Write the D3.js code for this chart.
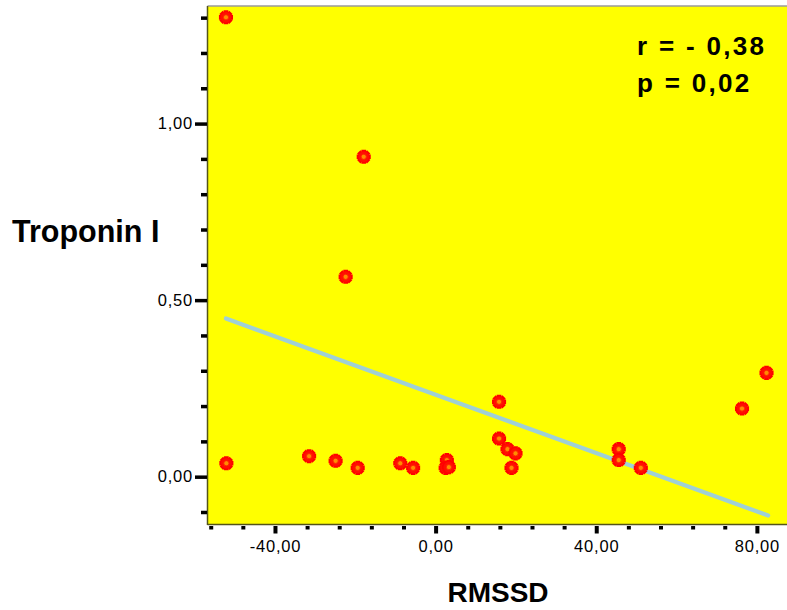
<!DOCTYPE html>
<html>
<head>
<meta charset="utf-8">
<script src="https://d3js.org/d3.v7.min.js"></script>
<style>
  body { margin: 0; background: #fff; }
  text { font-family: "Liberation Sans", Arial, sans-serif; }
</style>
</head>
<body>
<div id="container"></div>
<script>
// RMSSD (x) and Troponin I (y) values
var rmssd    = [-52.2, -17.9, -22.4, -52.1, -31.5, -24.9, -19.4, -8.8, -5.6, 2.8, 2.5, 3.3,
                15.8, 15.8, 17.9, 19.9, 18.9, 45.6, 45.6, 51.1, 76.3, 82.4];
var troponin = [1.301, 0.906, 0.566, 0.038, 0.058, 0.045, 0.025, 0.038, 0.025, 0.047, 0.025, 0.027,
                0.212, 0.108, 0.078, 0.066, 0.025, 0.078, 0.047, 0.025, 0.193, 0.294];
// fitted line ends
var fitX = [-52.2, 82.8];
var fitY = [0.448, -0.110];

var xTicks = d3.range(-56, 81, 8);
var yTicks = [-0.1, 0, 0.1, 0.2, 0.3, 0.4, 0.5, 0.6, 0.7, 0.8, 0.9, 1.0, 1.1, 1.2, 1.3];
var xMajor = [-40, 0, 40, 80];
var yMajor = [0, 0.5, 1.0];
var stats = ["r = - 0,38", "p = 0,02"];

var W = 787, H = 610;
var pLeft = 207.5, pRight = 787, pTop = 6, pBottom = 524;

var svg = d3.select("#container").append("svg")
  .attr("width", W)
  .attr("height", H);

var x = d3.scaleLinear().domain([-56.8, 87.5]).range([pLeft, pRight]);
var y = d3.scaleLinear().domain([-0.134, 1.333]).range([pBottom, pTop]);

var fmt = function(d) { return d3.format(".2f")(d).replace(".", ",").replace("\u2212", "-"); };
var isMajorY = function(d) { return yMajor.some(function(m) { return Math.abs(m - d) < 1e-6; }); };

// plot background
svg.append("rect")
  .attr("x", pLeft).attr("y", pTop)
  .attr("width", pRight - pLeft).attr("height", pBottom - pTop)
  .attr("fill", "#ffff00");
svg.append("line")
  .attr("x1", pLeft).attr("x2", pRight).attr("y1", pTop).attr("y2", pTop)
  .attr("stroke", "#9a9a9a").attr("stroke-width", 1.5);
svg.append("line")
  .attr("x1", pLeft).attr("x2", pLeft).attr("y1", pTop).attr("y2", pBottom + 1)
  .attr("stroke", "#55551a").attr("stroke-width", 1.5);
svg.append("line")
  .attr("x1", pLeft).attr("x2", pRight).attr("y1", pBottom + 0.5).attr("y2", pBottom + 0.5)
  .attr("stroke", "#55551a").attr("stroke-width", 1.5);

// x axis
var gx = svg.append("g")
  .attr("transform", "translate(0," + (pBottom + 2) + ")")
  .call(d3.axisBottom(x).tickValues(xTicks).tickSize(3).tickSizeOuter(0)
    .tickFormat(function(d) { return xMajor.indexOf(d) >= 0 ? fmt(d) : ""; }));
gx.select(".domain").remove();
gx.selectAll(".tick line").attr("stroke", "#000").attr("stroke-width", 4)
  .attr("y2", function(d) { return xMajor.indexOf(d) >= 0 ? 7.5 : 3.5; });
gx.selectAll(".tick text").attr("y", 14).attr("dy", "0.71em").attr("font-size", 16.5)
  .attr("letter-spacing", "0.8px").attr("fill", "#000");

// y axis
var gy = svg.append("g")
  .attr("transform", "translate(" + (pLeft - 0.5) + ",0)")
  .call(d3.axisLeft(y).tickValues(yTicks).tickSize(6).tickSizeOuter(0)
    .tickFormat(function(d) { return isMajorY(d) ? fmt(d) : ""; }));
gy.select(".domain").remove();
gy.selectAll(".tick line").attr("stroke", "#000").attr("stroke-width", 3.5)
  .attr("x2", function(d) { return isMajorY(d) ? -12 : -6; });
gy.selectAll(".tick text").attr("x", -14).attr("font-size", 16.5)
  .attr("letter-spacing", "0.8px").attr("fill", "#000");

// fit line
svg.append("path")
  .datum(d3.zip(fitX, fitY))
  .attr("d", d3.line().x(function(d) { return x(d[0]); }).y(function(d) { return y(d[1]); }))
  .attr("fill", "none")
  .attr("stroke", "#9fd0d6")
  .attr("stroke-width", 4.2)
  .attr("stroke-linecap", "round");

// points
var pts = svg.append("g").selectAll("g")
  .data(d3.zip(rmssd, troponin))
  .enter().append("g")
  .attr("transform", function(d) { return "translate(" + x(d[0]) + "," + y(d[1]) + ")"; });
pts.append("path")
  .attr("d", d3.symbol().type(d3.symbolCross).size(110))
  .attr("fill", "#ff0000");
pts.append("path")
  .attr("d", d3.symbol().type(d3.symbolCross).size(110))
  .attr("transform", "rotate(45)")
  .attr("fill", "#ff0000");
pts.append("circle")
  .attr("r", 5.3)
  .attr("fill", "#ff1000");
pts.append("circle")
  .attr("r", 2.6)
  .attr("fill", "#ff8c00")
  .attr("stroke", "#ff2000")
  .attr("stroke-width", 0.9);

// axis titles
svg.append("text")
  .attr("x", 12).attr("y", 242)
  .attr("font-size", 30.5).attr("font-weight", "bold")
  .text("Troponin I");
svg.append("text")
  .attr("x", 498).attr("y", 602)
  .attr("text-anchor", "middle")
  .attr("font-size", 28).attr("font-weight", "bold")
  .text("RMSSD");

// stats annotation
svg.selectAll(".stat")
  .data(stats)
  .enter().append("text")
  .attr("class", "stat")
  .attr("x", 637)
  .attr("y", function(d, i) { return 55 + i * 37; })
  .attr("font-size", 26).attr("font-weight", "bold")
  .attr("letter-spacing", "2.3px")
  .text(function(d) { return d; });
</script>
</body>
</html>
